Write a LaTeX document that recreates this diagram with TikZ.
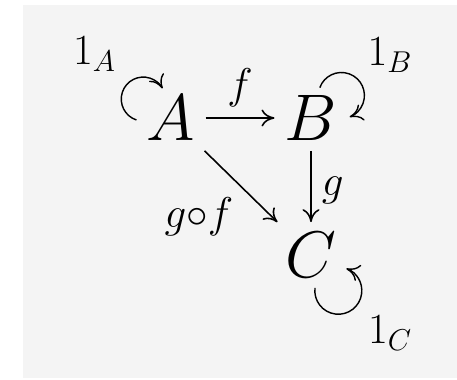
\RequirePackage{fix-cm}
\documentclass[tikz,border=0pt]{standalone}
\usetikzlibrary{arrows.meta, positioning}
\definecolor{checkgray}{RGB}{244,244,244}

\begin{document}
\begin{tikzpicture}[
    object/.style={inner sep=0.2cm, font=\fontsize{37.5}{40}\selectfont},
    arrlabel/.style={inner sep=0pt, font=\fontsize{24.5}{26}\selectfont},
    morph/.style={-{To[length=2.6mm, width=3.4mm]}, line width=0.9pt},
    idloop/.style={morph, line width=0.8pt}
]

% Background
\fill[checkgray] (0.46,-0.1) rectangle (9.14,-7.56);
\useasboundingbox (0,0) rectangle (9.14,-7.6);

% Objects
\node[object] (A) at (3.42,-2.36) {$A$};
\node[object] (B) at (6.22,-2.36) {$B$};
\node[object] (C) at (6.22,-5.10) {$C$};

% Morphisms
\draw[morph] (A) -- node[arrlabel, above=0.2cm] {$f$} (B);
\draw[morph] (B) -- node[arrlabel, right=0.2cm, pos=0.55] {$g$} (C);
\draw[morph] (A) -- node[arrlabel, below left=0.2cm and 0.14cm] {$g{\circ}f$} (C);

% Identities
\draw[idloop] ([yshift=-0.04cm]A.west) arc[start angle=252, end angle=29, radius=0.44cm];
\draw[idloop] ([yshift=-0.05cm]B.75) arc[start angle=160, end angle=-69, radius=0.46cm];
\draw[idloop] ([xshift=0.08cm]C.south) arc[start angle=173, end angle=430, radius=0.47cm];

\node[arrlabel] (idA) at (1.89,-1.08) {$1_A$};
\node[arrlabel] (idB) at (7.80,-1.10) {$1_B$};
\node[arrlabel] (idC) at (7.80,-6.66) {$1_C$};

\end{tikzpicture}
\end{document}
